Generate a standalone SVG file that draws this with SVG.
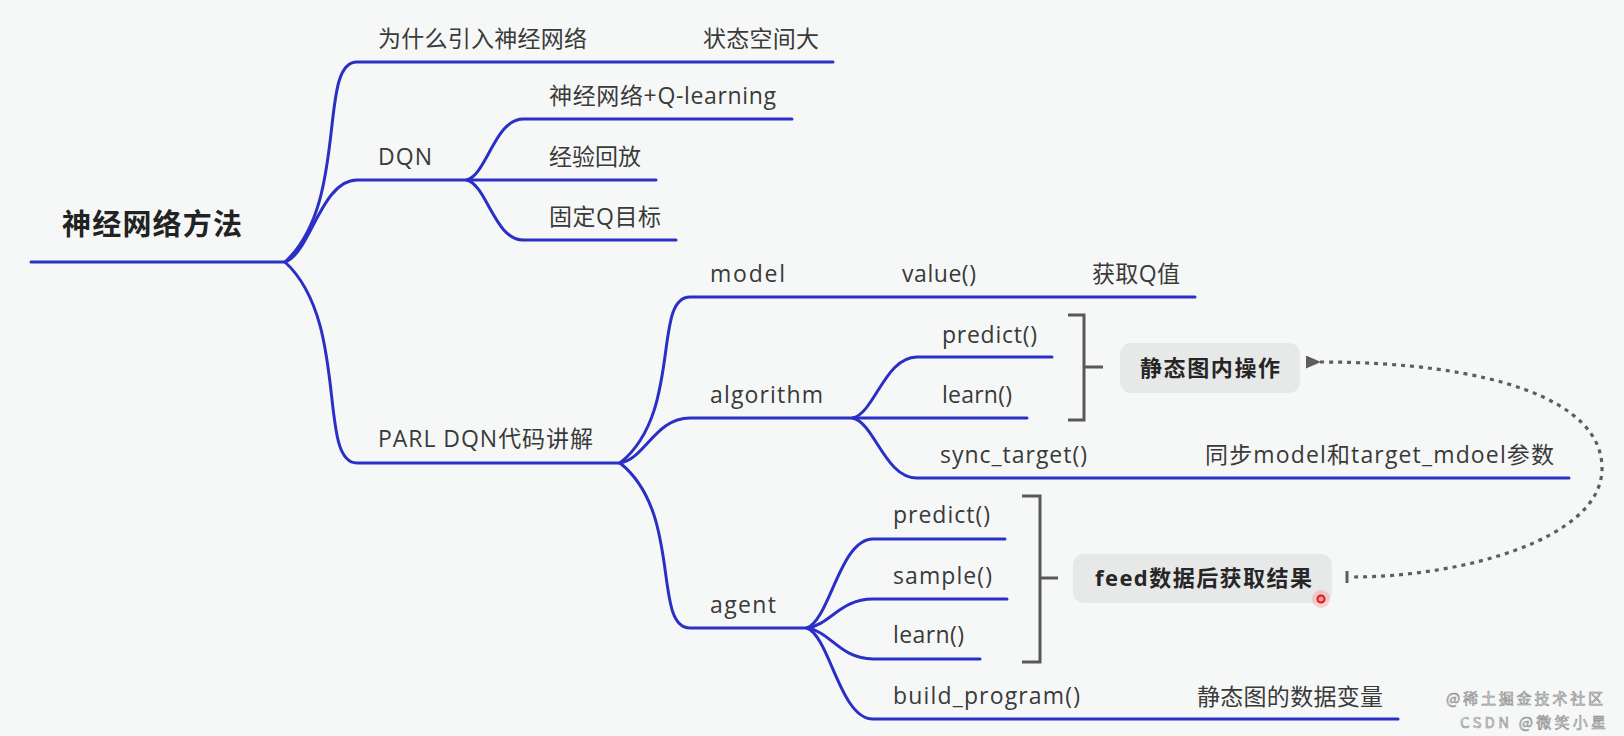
<svg xmlns="http://www.w3.org/2000/svg" width="1624" height="736" viewBox="0 0 1624 736">
<defs>
<style>
.t{font-family:"Open Sans","Noto Sans CJK SC",sans-serif;font-size:23px;fill:#3a3a3a}
.b{font-family:"Open Sans","Noto Sans CJK SC",sans-serif;font-size:22px;font-weight:bold;fill:#262626}
.root{font-family:"Open Sans","Noto Sans CJK SC",sans-serif;font-size:29px;font-weight:bold;fill:#222}
.c{fill:none;stroke:#2a2fc6;stroke-width:3;stroke-linecap:round}
.br{fill:none;stroke:#585858;stroke-width:3}
.box{fill:#e7e9e8}
.dot{fill:none;stroke:#5e5e5e;stroke-width:3.2;stroke-dasharray:4 5}
.wm{font-family:"Noto Sans CJK SC",sans-serif;font-size:15px;fill:#e8e8e8;stroke:#8a8a8a;stroke-width:0.6}
</style>
<marker id="ah" viewBox="0 0 15 13" refX="1" refY="6.5" markerWidth="15" markerHeight="13" markerUnits="userSpaceOnUse" orient="auto-start-reverse">
<path d="M0 6.5 L15 0 L15 13 Z" fill="#5e5e5e"/>
</marker>
</defs>
<rect width="1624" height="736" fill="#f6f8f7"/>

<g id="connectors">
<path class="c" d="M31 262 H285"/>
<path class="c" d="M285 262 C350 202 317 62 357 62 H833"/>
<path class="c" d="M285 262 C310 254 321 180 357 180 H467"/>
<path class="c" d="M285 262 C350 322 317 463 357 463 H620"/>
<path class="c" d="M467 180 C487 174 495 119 523 119 H792"/>
<path class="c" d="M467 180 H656"/>
<path class="c" d="M467 180 C487 186 495 240 523 240 H676"/>
<path class="c" d="M620 463 C683 413 652 297 690 297 H1195"/>
<path class="c" d="M620 463 C645 459 655 418 690 418 H853"/>
<path class="c" d="M620 463 C683 513 652 628 690 628 H807"/>
<path class="c" d="M853 418 C875 412 885 357 917 357 H1052"/>
<path class="c" d="M853 418 H1027"/>
<path class="c" d="M853 418 C875 424 885 478 917 478 H1569"/>
<path class="c" d="M807 628 C830 619 840 539 873 539 H1005"/>
<path class="c" d="M807 628 C830 625 840 599 873 599 H1007"/>
<path class="c" d="M807 628 C830 631 840 659 873 659 H980"/>
<path class="c" d="M807 628 C830 637 840 719 873 719 H1398"/>
<path class="br" d="M1068 315 H1084 V420 H1068 M1084 367 H1103"/>
<path class="br" d="M1022 496 H1040 V662 H1022 M1040 578 H1058"/>
<path class="dot" d="M1320 362 C1490 362 1604 400 1602 470 C1600 540 1460 577 1352 577" marker-start="url(#ah)"/>
<path d="M1347 571 V583" stroke="#5e5e5e" stroke-width="3"/>
</g>

<g id="root"><text class="root" x="62" y="235" textLength="180" lengthAdjust="spacing">神经网络方法</text></g>
<g id="why"><text class="t" x="378" y="47" textLength="209" lengthAdjust="spacing">为什么引入神经网络</text></g>
<g id="why-answer"><text class="t" x="703" y="47" textLength="116" lengthAdjust="spacing">状态空间大</text></g>
<g id="dqn"><text class="t" x="378" y="165" textLength="54" lengthAdjust="spacing">DQN</text></g>
<g id="dqn-nn"><text class="t" x="549" y="104" textLength="227" lengthAdjust="spacing">神经网络+Q-learning</text></g>
<g id="dqn-replay"><text class="t" x="549" y="165" textLength="92" lengthAdjust="spacing">经验回放</text></g>
<g id="dqn-fixed"><text class="t" x="549" y="225" textLength="112" lengthAdjust="spacing">固定Q目标</text></g>
<g id="parl"><text class="t" x="378" y="447" textLength="215" lengthAdjust="spacing">PARL DQN代码讲解</text></g>
<g id="model"><text class="t" x="710" y="282" textLength="75" lengthAdjust="spacing">model</text></g>
<g id="model-value"><text class="t" x="902" y="282" textLength="74" lengthAdjust="spacing">value()</text></g>
<g id="model-q"><text class="t" x="1092" y="282" textLength="88" lengthAdjust="spacing">获取Q值</text></g>
<g id="algorithm"><text class="t" x="710" y="403" textLength="113" lengthAdjust="spacing">algorithm</text></g>
<g id="alg-predict"><text class="t" x="942" y="343" textLength="95" lengthAdjust="spacing">predict()</text></g>
<g id="alg-learn"><text class="t" x="942" y="403" textLength="70" lengthAdjust="spacing">learn()</text></g>
<g id="alg-sync"><text class="t" x="940" y="463" textLength="147" lengthAdjust="spacing">sync_target()</text></g>
<g id="alg-sync-note"><text class="t" x="1205" y="463" textLength="349" lengthAdjust="spacing">同步model和target_mdoel参数</text></g>
<g id="static-op"><rect class="box" x="1120" y="343" width="180" height="50" rx="11"/><text class="b" x="1140" y="376" textLength="140" lengthAdjust="spacing">静态图内操作</text></g>
<g id="agent"><text class="t" x="710" y="613" textLength="66" lengthAdjust="spacing">agent</text></g>
<g id="agent-predict"><text class="t" x="893" y="523" textLength="97" lengthAdjust="spacing">predict()</text></g>
<g id="agent-sample"><text class="t" x="893" y="584" textLength="99" lengthAdjust="spacing">sample()</text></g>
<g id="agent-learn"><text class="t" x="893" y="643" textLength="71" lengthAdjust="spacing">learn()</text></g>
<g id="agent-build"><text class="t" x="893" y="704" textLength="187" lengthAdjust="spacing">build_program()</text></g>
<g id="agent-build-note"><text class="t" x="1197" y="705" textLength="186" lengthAdjust="spacing">静态图的数据变量</text></g>
<g id="feed"><rect class="box" x="1073" y="554" width="259" height="49" rx="11"/><text class="b" x="1095" y="586" textLength="217" lengthAdjust="spacing">feed数据后获取结果</text></g>
<g id="pointer"><circle cx="1321" cy="599" r="9" fill="#ff3030" fill-opacity="0.18"/><circle cx="1321" cy="599" r="3.5" fill="#ff9a9a" stroke="#e01818" stroke-width="2"/></g>
<g id="watermark"><text class="wm" x="1446" y="704" textLength="157" lengthAdjust="spacing">@稀土掘金技术社区</text><text class="wm" x="1460" y="728" textLength="146" lengthAdjust="spacing">CSDN @微笑小星</text></g>
</svg>
